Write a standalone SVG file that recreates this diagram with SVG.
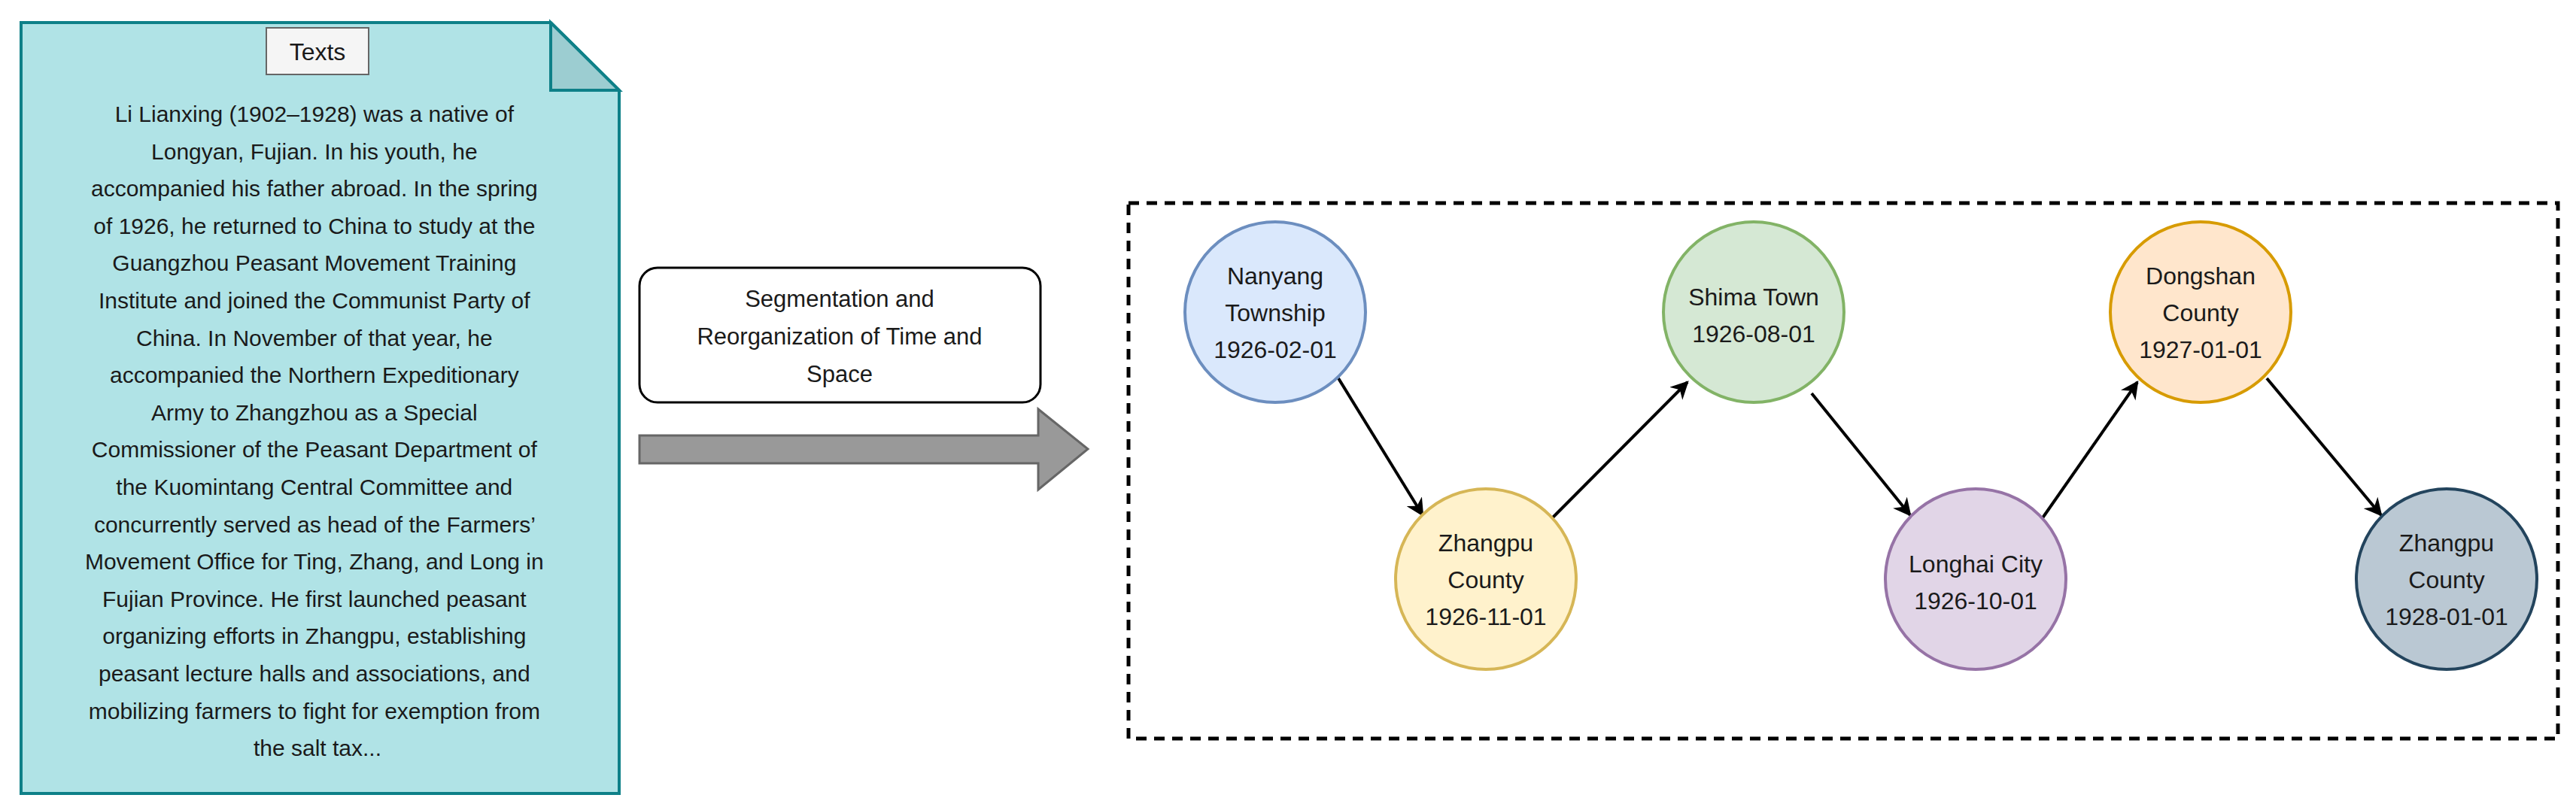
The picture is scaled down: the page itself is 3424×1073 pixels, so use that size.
<svg xmlns="http://www.w3.org/2000/svg" width="3424" height="1073" viewBox="0 0 3424 1073">
<style>
text{font-family:"Liberation Sans",Arial,sans-serif;fill:#1a1a1a;text-anchor:middle}
.doc{font-size:30px}
.nd{font-size:32px}
.c{stroke-width:4}
.e{stroke:#000;stroke-width:4;fill:none;marker-end:url(#ah)}
</style>
<defs>
<marker id="ah" viewBox="0 0 10 10" refX="9" refY="5" markerWidth="6" markerHeight="6" orient="auto" markerUnits="strokeWidth"><path d="M0,0 L10,5 L0,10 L3,5 z" fill="#000"/></marker>
</defs>
<rect width="3424" height="1073" fill="#fff"/>
<g id="document">
<path d="M28,30 H732 L823,120 V1055 H28 Z" fill="#b0e3e6" stroke="#0e8088" stroke-width="4"/>
<path d="M732,30 V120 H823 Z" fill="#9ccdd1" stroke="#0e8088" stroke-width="4"/>
<rect x="354" y="37" width="136" height="62" fill="#f5f5f5" stroke="#666" stroke-width="2"/>
<text x="422" y="80" style="font-size:32px">Texts</text>
<text class="doc" x="422">
<tspan x="422" y="162">Li Lianxing (1902–1928) was a native of</tspan>
<tspan x="422" y="212">Longyan, Fujian. In his youth, he</tspan>
<tspan x="422" y="261">accompanied his father abroad. In the spring</tspan>
<tspan x="422" y="311">of 1926, he returned to China to study at the</tspan>
<tspan x="422" y="360">Guangzhou Peasant Movement Training</tspan>
<tspan x="422" y="410">Institute and joined the Communist Party of</tspan>
<tspan x="422" y="460">China. In November of that year, he</tspan>
<tspan x="422" y="509">accompanied the Northern Expeditionary</tspan>
<tspan x="422" y="559">Army to Zhangzhou as a Special</tspan>
<tspan x="422" y="608">Commissioner of the Peasant Department of</tspan>
<tspan x="422" y="658">the Kuomintang Central Committee and</tspan>
<tspan x="422" y="708">concurrently served as head of the Farmers’</tspan>
<tspan x="422" y="757">Movement Office for Ting, Zhang, and Long in</tspan>
<tspan x="422" y="807">Fujian Province. He first launched peasant</tspan>
<tspan x="422" y="856">organizing efforts in Zhangpu, establishing</tspan>
<tspan x="422" y="906">peasant lecture halls and associations, and</tspan>
<tspan x="422" y="956">mobilizing farmers to fight for exemption from</tspan>
<tspan x="422" y="1005">the salt tax...</tspan>
</text>
</g>
<g id="process">
<rect x="850" y="356" width="533" height="179" rx="24" fill="#fff" stroke="#000" stroke-width="3"/>
<text class="doc" style="font-size:31px"><tspan x="1116" y="408">Segmentation and</tspan><tspan x="1116" y="458">Reorganization of Time and</tspan><tspan x="1116" y="508">Space</tspan></text>
</g>
<g id="bigArrow">
<path d="M850,579 H1380 V544 L1446,597 L1380,651 V616 H850 Z" fill="#999" stroke="#666" stroke-width="3"/>
</g>
<g id="container">
<rect x="1500" y="270" width="1900" height="712" fill="none" stroke="#000" stroke-width="5" stroke-dasharray="14,10"/>
</g>
<g id="connectors">
<line class="e" x1="1779" y1="503" x2="1891" y2="685"/>
<line class="e" x1="2062" y1="690" x2="2243" y2="508"/>
<line class="e" x1="2408" y1="523" x2="2539" y2="685"/>
<line class="e" x1="2714" y1="690" x2="2841" y2="508"/>
<line class="e" x1="3013" y1="503" x2="3165" y2="685"/>
</g>
<g id="n1"><circle class="c" cx="1695" cy="415" r="120" fill="#dae8fc" stroke="#6c8ebf"/>
<text class="nd"><tspan x="1695" y="378">Nanyang</tspan><tspan x="1695" y="427">Township</tspan><tspan x="1695" y="476">1926-02-01</tspan></text></g>
<g id="n2"><circle class="c" cx="1975" cy="770" r="120" fill="#fff2cc" stroke="#d6b656"/>
<text class="nd"><tspan x="1975" y="733">Zhangpu</tspan><tspan x="1975" y="782">County</tspan><tspan x="1975" y="831">1926-11-01</tspan></text></g>
<g id="n3"><circle class="c" cx="2331" cy="415" r="120" fill="#d5e8d4" stroke="#82b366"/>
<text class="nd"><tspan x="2331" y="406">Shima Town</tspan><tspan x="2331" y="455">1926-08-01</tspan></text></g>
<g id="n4"><circle class="c" cx="2626" cy="770" r="120" fill="#e1d5e7" stroke="#9673a6"/>
<text class="nd"><tspan x="2626" y="761">Longhai City</tspan><tspan x="2626" y="810">1926-10-01</tspan></text></g>
<g id="n5"><circle class="c" cx="2925" cy="415" r="120" fill="#ffe6cc" stroke="#d79b00"/>
<text class="nd"><tspan x="2925" y="378">Dongshan</tspan><tspan x="2925" y="427">County</tspan><tspan x="2925" y="476">1927-01-01</tspan></text></g>
<g id="n6"><circle class="c" cx="3252" cy="770" r="120" fill="#bac8d3" stroke="#23445d"/>
<text class="nd"><tspan x="3252" y="733">Zhangpu</tspan><tspan x="3252" y="782">County</tspan><tspan x="3252" y="831">1928-01-01</tspan></text></g>
</svg>
